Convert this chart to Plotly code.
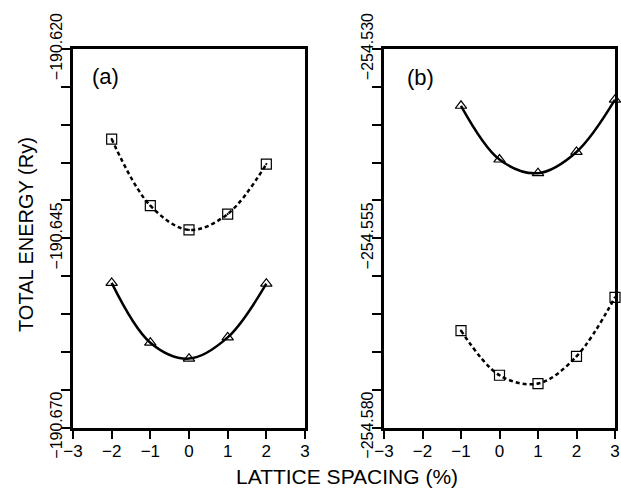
import plotly.graph_objects as go

# ---- data ----
spacing = [-2, -1, 0, 1, 2]
a_squares = [-190.6319, -190.6407, -190.6439, -190.6418, -190.6352]
a_triangles = [-190.6509, -190.6588, -190.6609, -190.6581, -190.6510]

spacing_b = [-1, 0, 1, 2, 3]
b_triangles = [-254.5375, -254.5446, -254.5464, -254.5436, -254.5367]
b_squares = [-254.5672, -254.5731, -254.5742, -254.5706, -254.5628]

x_tickvals = [-3, -2, -1, 0, 1, 2, 3]
x_ticktext = ["\u22123", "\u22122", "\u22121", "0", "1", "2", "3"]

ya_tickvals = [-190.670, -190.645, -190.620]
ya_ticktext = ["\u2212190.670", "\u2212190.645", "\u2212190.620"]
yb_tickvals = [-254.580, -254.555, -254.530]
yb_ticktext = ["\u2212254.580", "\u2212254.555", "\u2212254.530"]

ya_range = [-190.670, -190.620]
yb_range = [-254.580, -254.530]
x_range = [-3, 3]

FONT = "Liberation Sans, Arial, sans-serif"

fig = go.Figure()

dash_style = "4px,3px"

fig.add_trace(go.Scatter(
    x=spacing, y=a_squares, mode="lines+markers",
    line=dict(color="black", width=2.5, dash=dash_style, shape="spline", smoothing=1.0),
    marker=dict(symbol="square-open-dot", size=10, color="black", line=dict(width=1.2, color="black")),
    xaxis="x", yaxis="y", showlegend=False))
fig.add_trace(go.Scatter(
    x=spacing, y=a_triangles, mode="lines+markers",
    line=dict(color="black", width=2.5, shape="spline", smoothing=1.0),
    marker=dict(symbol="triangle-up-open", size=10, color="black", line=dict(width=1.2, color="black")),
    xaxis="x", yaxis="y", showlegend=False))
fig.add_trace(go.Scatter(
    x=spacing_b, y=b_triangles, mode="lines+markers",
    line=dict(color="black", width=2.5, shape="spline", smoothing=1.0),
    marker=dict(symbol="triangle-up-open", size=10, color="black", line=dict(width=1.2, color="black")),
    xaxis="x2", yaxis="y2", showlegend=False, cliponaxis=False))
fig.add_trace(go.Scatter(
    x=spacing_b, y=b_squares, mode="lines+markers",
    line=dict(color="black", width=2.5, dash=dash_style, shape="spline", smoothing=1.0),
    marker=dict(symbol="square-open-dot", size=10, color="black", line=dict(width=1.2, color="black")),
    xaxis="x2", yaxis="y2", showlegend=False, cliponaxis=False))

ydom = [1 - 427.5 / 489, 1 - 49 / 489]

common_x = dict(range=x_range, tickmode="array", tickvals=x_tickvals, ticktext=x_ticktext,
                ticks="outside", ticklen=9, tickwidth=1.8, tickcolor="black",
                showline=True, linecolor="black", linewidth=2.5, mirror=True,
                showgrid=False, zeroline=False, automargin=False, ticklabelstandoff=-3,
                tickfont=dict(family=FONT, size=17, color="black"))
common_y = dict(ticks="outside", ticklen=9, tickwidth=1.8, tickcolor="black",
                showline=True, linecolor="black", linewidth=2.5, mirror=True,
                showgrid=False, zeroline=False, tickangle=-90, automargin=False,
                ticklabelstandoff=-7,
                tickfont=dict(family=FONT, size=16, color="black"),
                minor=dict(dtick=0.005, ticks="outside", ticklen=9, tickwidth=1.8, tickcolor="black"))

ann_font = dict(family=FONT, color="black")

fig.update_layout(
    width=621, height=489, autosize=False,
    margin=dict(l=0, r=0, t=0, b=0, pad=0),
    paper_bgcolor="white", plot_bgcolor="white",
    xaxis=dict(domain=[73 / 621, 305 / 621], anchor="y", **common_x),
    xaxis2=dict(domain=[384 / 621, 615 / 621], anchor="y2", **common_x),
    yaxis=dict(domain=ydom, anchor="x", range=ya_range, tickmode="array",
               tickvals=ya_tickvals, ticktext=ya_ticktext, **common_y),
    yaxis2=dict(domain=ydom, anchor="x2", range=yb_range, tickmode="array",
                tickvals=yb_tickvals, ticktext=yb_ticktext, **common_y),
    annotations=[
        dict(text="(a)", x=105 / 621, y=1 - 76 / 489, xref="paper", yref="paper",
             xanchor="center", yanchor="middle",
             showarrow=False, font=dict(size=22, **ann_font)),
        dict(text="(b)", x=420 / 621, y=1 - 77 / 489, xref="paper", yref="paper",
             xanchor="center", yanchor="middle",
             showarrow=False, font=dict(size=22, **ann_font)),
        dict(text="LATTICE SPACING (%)", x=347 / 621, y=1 - 476 / 489, xref="paper", yref="paper",
             xanchor="center", yanchor="middle",
             showarrow=False, font=dict(size=21, **ann_font)),
        dict(text="TOTAL ENERGY (Ry)", x=26 / 621, y=1 - 235 / 489, xref="paper", yref="paper",
             xanchor="center", yanchor="middle",
             showarrow=False, textangle=-90, font=dict(size=20, **ann_font)),
    ],
)

fig.write_html("out.html")
